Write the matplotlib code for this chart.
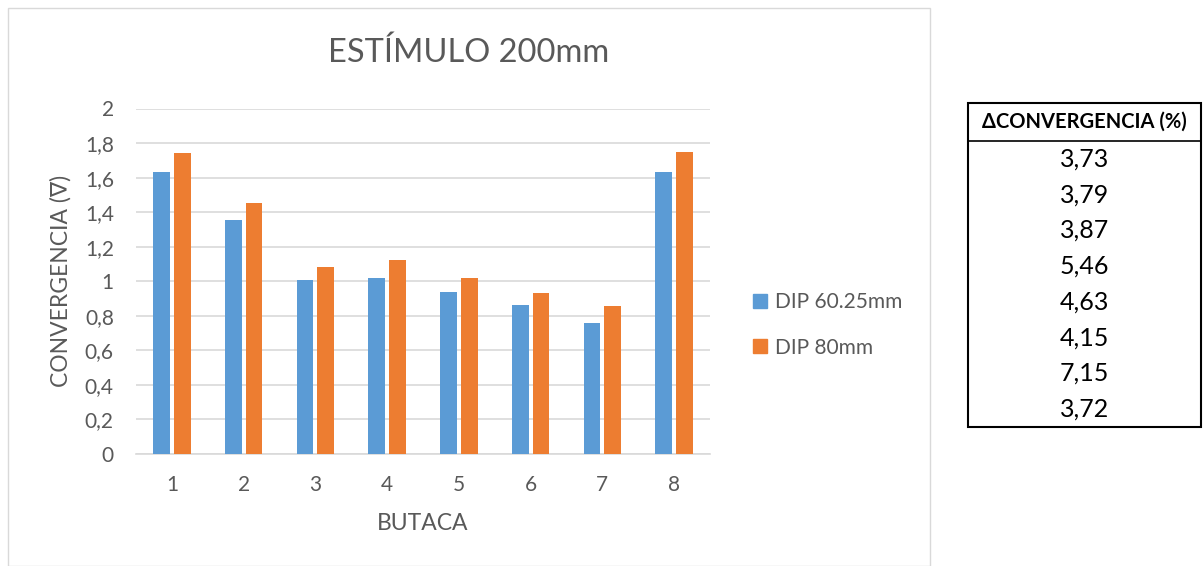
import matplotlib
matplotlib.use("Agg")
import matplotlib.pyplot as plt
from matplotlib.patches import Rectangle
from matplotlib.lines import Line2D
import numpy as np

# Data
butacas = ["1", "2", "3", "4", "5", "6", "7", "8"]
dip_6025 = [1.63, 1.355, 1.005, 1.02, 0.94, 0.86, 0.757, 1.63]
dip_80 = [1.745, 1.455, 1.08, 1.125, 1.02, 0.93, 0.855, 1.75]
delta_conv = ["3,73", "3,79", "3,87", "5,46", "4,63", "4,15", "7,15", "3,72"]
yticks = [0, 0.2, 0.4, 0.6, 0.8, 1.0, 1.2, 1.4, 1.6, 1.8, 2.0]
ytick_labels = ["0", "0,2", "0,4", "0,6", "0,8", "1", "1,2", "1,4", "1,6", "1,8", "2"]

BLUE = "#5B9BD5"
ORANGE = "#ED7D31"
GRAY_TXT = "#595959"
GRID = "#D9D9D9"
FONT = ["Lato", "DejaVu Sans"]

W, H = 1203, 566
fig = plt.figure(figsize=(W / 100, H / 100), dpi=100)
plt.rcParams["font.family"] = FONT

# Chart frame
fig.patches.append(Rectangle((8 / W, 0), (930 - 8) / W, (H - 8) / H,
                             transform=fig.transFigure, fill=False,
                             edgecolor="#D9D9D9", linewidth=1.0))

# Plot area
x0, x1, y0, y1 = 136, 710, 108.5, 454
ax = fig.add_axes([x0 / W, 1 - y1 / H, (x1 - x0) / W, (y1 - y0) / H])
x = np.arange(len(butacas))
bw = 0.235
off = 0.145
ax.bar(x - off, dip_6025, bw, color=BLUE, zorder=3, label="DIP 60.25mm")
ax.bar(x + off, dip_80, bw, color=ORANGE, zorder=3, label="DIP 80mm")
ax.set_xlim(-0.5, len(butacas) - 0.5)
ax.set_ylim(0, 2)
ax.set_yticks(yticks)
ax.set_yticklabels(ytick_labels)
ax.set_xticks(x)
ax.set_xticklabels(butacas)
ax.yaxis.grid(True, color=GRID, linewidth=1.2, zorder=0)
for s in ["top", "right", "left"]:
    ax.spines[s].set_visible(False)
ax.spines["bottom"].set_color(GRID)
ax.spines["bottom"].set_linewidth(1.2)
ax.tick_params(axis="both", length=0, labelsize=15, colors=GRAY_TXT)
ax.tick_params(axis="x", pad=15)
ax.tick_params(axis="y", pad=16)
ax.set_xlabel("BUTACA", fontsize=16.5, color=GRAY_TXT)
ax.set_ylabel("CONVERGENCIA (∇)", fontsize=16.5, color=GRAY_TXT)
ax.xaxis.set_label_coords(423 / W, 1 - 523 / H, transform=fig.transFigure)
ax.yaxis.set_label_coords(61 / W, 1 - 281 / H, transform=fig.transFigure)
ax.xaxis.label.set_va("center")
ax.yaxis.label.set_va("center")

fig.text(469 / W, 1 - 53 / H, "ESTÍMULO 200mm", ha="center", va="center",
         fontsize=23.5, color=GRAY_TXT)

# Legend
handles = [Line2D([], [], marker="s", linestyle="none", markersize=10,
                  markerfacecolor=BLUE, markeredgecolor=BLUE),
           Line2D([], [], marker="s", linestyle="none", markersize=10,
                  markerfacecolor=ORANGE, markeredgecolor=ORANGE)]
fig.legend(handles, ["DIP 60.25mm", "DIP 80mm"], loc="center left",
           bbox_to_anchor=(731 / W, 1 - 325 / H), frameon=False,
           fontsize=15, labelcolor=GRAY_TXT, handletextpad=0.2,
           labelspacing=1.2, handlelength=1.0)

# Table of convergence differences
tx0, tx1, ty0, ty1, th = 968, 1201, 103, 427, 141
fig.patches.append(Rectangle((tx0 / W, 1 - ty1 / H), (tx1 - tx0) / W,
                             (ty1 - ty0) / H, transform=fig.transFigure,
                             fill=False, edgecolor="black", linewidth=1.5))
fig.lines.append(Line2D([tx0 / W, tx1 / W], [1 - th / H, 1 - th / H],
                        transform=fig.transFigure, color="black", linewidth=1.2))
cx = (tx0 + tx1) / 2
fig.text(cx / W, 1 - 122 / H, "ΔCONVERGENCIA (%)", ha="center", va="center",
         fontsize=14.5, fontweight="bold", color="black")
row_h = (ty1 - th) / len(delta_conv)
for i, v in enumerate(delta_conv):
    yc = th + row_h * (i + 0.5)
    fig.text(cx / W, 1 - yc / H, v, ha="center", va="center",
             fontsize=18, color="black")

fig.savefig("out.png", dpi=100)
